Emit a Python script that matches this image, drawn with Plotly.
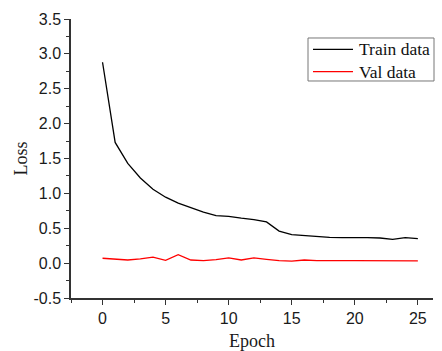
import plotly.graph_objects as go

epochs = list(range(26))
train_loss = [2.88, 1.73, 1.43, 1.22, 1.06, 0.945, 0.86, 0.79, 0.73, 0.68,
              0.67, 0.645, 0.625, 0.59, 0.46, 0.41, 0.395, 0.385, 0.37, 0.365,
              0.37, 0.365, 0.36, 0.34, 0.365, 0.35]
val_loss = [0.07, 0.06, 0.045, 0.06, 0.085, 0.04, 0.12, 0.045, 0.035, 0.05,
            0.075, 0.045, 0.075, 0.055, 0.035, 0.03, 0.045, 0.035, 0.04, 0.035,
            0.035, 0.033, 0.033, 0.033, 0.033, 0.033]
series_names = ["Train data", "Val data"]
series_colors = ["black", "#ff0000"]
y_ticks = [-0.5, 0.0, 0.5, 1.0, 1.5, 2.0, 2.5, 3.0, 3.5]
y_ticklabels = ["-0.5", "0.0", "0.5", "1.0", "1.5", "2.0", "2.5", "3.0", "3.5"]
x_ticks = [0, 5, 10, 15, 20, 25]

fig = go.Figure()
for name, color, ys in zip(series_names, series_colors, [train_loss, val_loss]):
    fig.add_trace(go.Scatter(x=epochs, y=ys, mode="lines", name=name,
                             line=dict(color=color, width=1.3), showlegend=False))

axis_common = dict(showline=True, linecolor="#333333", linewidth=1.5,
                   ticks="outside", ticklen=5, tickwidth=1.2, tickcolor="#333333",
                   showgrid=False, zeroline=False, automargin=False,
                   tickfont=dict(family="Liberation Sans, Arial", size=16, color="#1a1a1a"))
title_font = dict(family="Liberation Serif, Times New Roman", size=18, color="#1a1a1a")

# Legend box drawn in paper coordinates (Origin-style compact legend)
legend_font = dict(family="Liberation Serif, Times New Roman", size=17.5, color="#111111")
box_x0, box_x1, box_y0, box_y1 = 0.6547, 1.0028, 0.7778, 0.9319
sample_x0, sample_x1, text_x = 0.6685, 0.7790, 0.7900
row_y = [0.8914, 0.8111]

shapes = [dict(type="rect", xref="paper", yref="paper", x0=box_x0, x1=box_x1,
               y0=box_y0, y1=box_y1, line=dict(color="#777777", width=1),
               fillcolor="white", layer="above")]
annotations = []
for name, color, yy in zip(series_names, series_colors, row_y):
    shapes.append(dict(type="line", xref="paper", yref="paper", x0=sample_x0, x1=sample_x1,
                       y0=yy, y1=yy, line=dict(color=color, width=1.3), layer="above"))
    annotations.append(dict(xref="paper", yref="paper", x=text_x, y=yy, text=name,
                            showarrow=False, xanchor="left", yanchor="middle", font=legend_font))

fig.update_layout(
    width=442, height=351,
    margin=dict(l=71, r=9, t=19, b=53),
    paper_bgcolor="white", plot_bgcolor="white",
    xaxis=dict(range=[-2.5, 26.2], tickvals=x_ticks,
               minor=dict(ticks="outside", ticklen=3, dtick=2.5, tick0=0, tickcolor="#333333"),
               title=dict(text="Epoch", font=title_font, standoff=10),
               **axis_common),
    yaxis=dict(range=[-0.5, 3.5], tickvals=y_ticks, ticktext=y_ticklabels,
               minor=dict(ticks="outside", ticklen=3, dtick=0.25, tick0=0, tickcolor="#333333"),
               title=dict(text="Loss", font=title_font, standoff=1),
               **axis_common),
    shapes=shapes,
    annotations=annotations,
    showlegend=False,
)

fig.write_html("out.html")
